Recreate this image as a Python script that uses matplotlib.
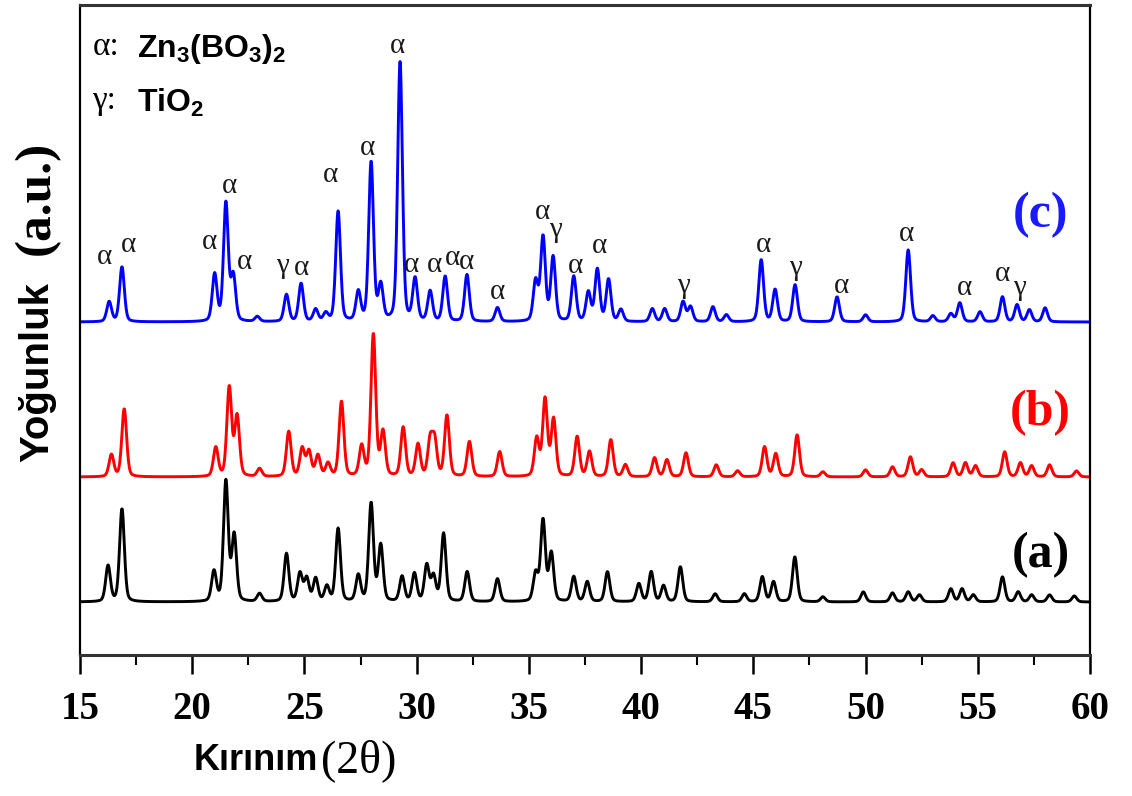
import numpy as np
import matplotlib.pyplot as plt

two_theta = np.linspace(15, 60, 2251)

# peak positions (2theta) and heights (a.u.)
a_pos = [16.25, 16.87, 20.97, 21.5, 21.87, 23.0, 24.2, 24.8, 25.1, 25.5, 26.0, 26.5, 27.4, 27.97, 28.4,
         29.35, 29.9, 30.45, 30.75, 31.2, 32.25, 33.6, 35.3, 35.63, 36.0, 37.0, 37.6, 38.5, 39.9, 40.45,
         41.0, 41.75, 43.3, 44.6, 45.4, 45.9, 46.85, 48.1, 49.9, 51.2, 51.9, 52.4, 53.8, 54.3, 54.8,
         56.1, 56.8, 57.4, 58.2, 59.3]
a_int = [36, 93, 30, 120, 66, 8, 48, 28, 23, 23, 15, 73, 26, 98, 56,
         25, 28, 36, 25, 68, 30, 23, 28, 81, 48, 25, 20, 30, 18, 30,
         16, 35, 8, 8, 25, 20, 45, 5, 10, 9, 10, 7, 13, 13, 7,
         25, 10, 7, 7, 6]

b_pos = [16.4, 16.97, 21.05, 21.65, 22.0, 23.0, 24.3, 24.9, 25.2, 25.6, 26.05, 26.65, 27.55, 28.07, 28.5,
         29.4, 30.06, 30.6, 30.8, 31.35, 32.35, 33.7, 35.35, 35.72, 36.1, 37.15, 37.7, 38.65, 39.3, 40.6,
         41.15, 42.0, 43.35, 44.3, 45.5, 46.0, 46.95, 48.1, 50.0, 51.2, 52.0, 52.5, 53.9, 54.45, 54.9,
         56.2, 56.9, 57.4, 58.2, 59.4]
b_int = [22, 68, 29, 89, 60, 8, 45, 28, 25, 21, 13, 75, 30, 142, 44,
         49, 32, 35, 35, 61, 35, 25, 38, 77, 57, 40, 25, 37, 12, 19,
         17, 24, 12, 6, 30, 23, 42, 5, 7, 10, 20, 7, 14, 14, 11,
         25, 14, 11, 12, 6]

c_pos = [16.3, 16.87, 21.0, 21.5, 21.83, 22.9, 24.2, 24.85, 25.5, 25.95, 26.5, 27.4, 27.97, 28.4, 29.26,
         29.93, 30.6, 31.27, 32.24, 33.6, 35.3, 35.63, 36.08, 37.0, 37.65, 38.05, 38.55, 39.1, 40.5, 41.05,
         41.87, 42.2, 43.2, 43.8, 45.35, 45.97, 46.86, 48.73, 50.0, 51.9, 53.0, 53.8, 54.2, 55.1, 56.1,
         56.75, 57.3, 58.0]
c_int = [20, 55, 47, 118, 45, 5, 27, 38, 12, 8, 110, 29, 159, 35, 259,
         42, 30, 45, 47, 14, 40, 84, 64, 45, 29, 52, 42, 12, 13, 13,
         20, 15, 15, 7, 62, 32, 37, 25, 7, 72, 6, 8, 19, 10, 25,
         17, 12, 14]

# vertical offsets of the stacked patterns
offsets = {"a": 53, "b": 178, "c": 333}

# phase markers on pattern (c)
lbl_x = [16.11, 17.14, 20.75, 21.64, 22.35, 24.0, 24.85, 26.14, 27.83, 29.13, 29.75, 30.78, 31.58, 32.2,
         33.58, 35.6, 36.2, 37.06, 38.13, 41.87, 45.44, 46.86, 48.91, 51.81, 54.39, 56.09, 56.84]
lbl_y = [398, 410, 413, 469, 393, 389, 387, 480, 507, 609, 390, 390, 397, 393,
         363, 443, 425, 389, 409, 369, 410, 387, 369, 421, 367, 381, 367]
lbl_sym = ["α", "α", "α", "α", "α", "γ", "α", "α", "α", "α", "α", "α", "α", "α",
           "α", "α", "γ", "α", "α", "γ", "α", "γ", "α", "α", "α", "α", "γ"]


def pattern(pos, inten, base, fwhm=0.25):
    y = np.full_like(two_theta, float(base))
    for p, h in zip(pos, inten):
        d = (two_theta - p) / fwhm
        y += h * (0.7 * np.exp(-4 * np.log(2) * d ** 2) + 0.3 / (1 + 4 * d ** 2))
    return y


serif = "Liberation Serif"
sans = "Liberation Sans"
plt.rcParams["mathtext.default"] = "regular"

fig = plt.figure(figsize=(11.32, 7.96), dpi=100)
ax = fig.add_axes([80 / 1132, 141 / 796, 1010 / 1132, 650 / 796])

ax.plot(two_theta, pattern(a_pos, a_int, offsets["a"]), color="black", lw=2.1)
ax.plot(two_theta, pattern(b_pos, b_int, offsets["b"]), color="#ff0000", lw=2.1)
ax.plot(two_theta, pattern(c_pos, c_int, offsets["c"]), color="#0000ff", lw=2.1)

for x, y, s in zip(lbl_x, lbl_y, lbl_sym):
    ax.text(x, y, s, ha="center", va="center", family=serif, fontsize=21, color="#1a1a1a")

ax.text(57.8, 440, "(c)", ha="center", va="center", family=serif, weight="bold", fontsize=36, color="#1a1aff")
ax.text(57.8, 242, "(b)", ha="center", va="center", family=serif, weight="bold", fontsize=36, color="#ff0000")
ax.text(57.8, 100, "(a)", ha="center", va="center", family=serif, weight="bold", fontsize=36, color="black")

ax.text(15.55, 608, "α:", ha="left", va="center", family=serif, fontsize=24)
ax.text(17.55, 606, "Zn$_3$(BO$_3$)$_2$", ha="left", va="center", family=sans, weight="bold", fontsize=23)
ax.text(15.55, 554, "γ:", ha="left", va="center", family=serif, fontsize=24)
ax.text(17.55, 552, "TiO$_2$", ha="left", va="center", family=sans, weight="bold", fontsize=23)

ax.set_xlim(15, 60)
ax.set_ylim(0, 650)
ax.set_xticks(np.arange(15, 61, 5))
ax.set_xticks(np.arange(17.5, 60, 5), minor=True)
ax.set_yticks([])
ax.tick_params(axis="x", which="major", direction="out", length=14, width=1.8, pad=12)
ax.tick_params(axis="x", which="minor", direction="out", length=7, width=1.5)
for lab in ax.get_xticklabels():
    lab.set_family(serif)
    lab.set_weight("bold")
    lab.set_fontsize(28)
for side in ["left", "right"]:
    ax.spines[side].set_linewidth(1.6)
for side in ["top", "bottom"]:
    ax.spines[side].set_linewidth(2.2)
    ax.spines[side].set_color("#333333")

fig.text(318 / 1132, 1 - 760 / 796, "Kırınım", ha="right", va="center", family=sans, weight="bold", fontsize=26)
fig.text(321 / 1132, 1 - 761 / 796, "(2θ)", ha="left", va="center", family=serif, fontsize=33)
fig.text(37 / 1132, 1 - 372 / 796, "Yoğunluk", rotation=90, ha="center", va="center",
         family=sans, weight="bold", fontsize=29)
fig.text(37 / 1132, 1 - 198 / 796, "(a.u.)", rotation=90, ha="center", va="center",
         family=serif, weight="bold", fontsize=37)

fig.savefig("out.png", dpi=100)
